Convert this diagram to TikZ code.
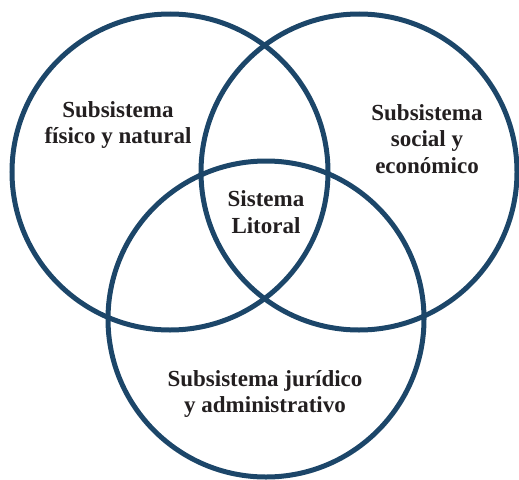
\documentclass[tikz,border=0pt]{standalone}
\usepackage{fontspec}
\setmainfont{Liberation Serif}
\usepackage{tikz}
\definecolor{vennblue}{RGB}{28,70,105}
\definecolor{inkblack}{RGB}{35,31,32}
\tikzstyle{ring} = [draw=vennblue, line width=5pt, circle, minimum size=316pt, inner sep=0pt]
\tikzstyle{label} = [text=inkblack, align=center, inner sep=0pt, font=\fontsize{23}{26.5}\selectfont\bfseries]

\begin{document}
\begin{tikzpicture}[x=1pt, y=-1pt]
        \useasboundingbox (0,0) rectangle (519,479);
        \node[ring] (fisico) at (170,172) {};
        \node[ring] (social) at (359,172) {};
        \node[ring] (juridico) at (266,319) {};
        \node[label] (lfisico) at (118,125) {Subsistema\\físico y natural};
        \node[label] (lsocial) at (427,139) {Subsistema\\social y\\económico};
        \node[label] (llitoral) at (266,212) {Sistema\\Litoral};
        \node[label] (ljuridico) at (265,394) {Subsistema jurídico\\y administrativo};
    \end{tikzpicture}
\end{document}
